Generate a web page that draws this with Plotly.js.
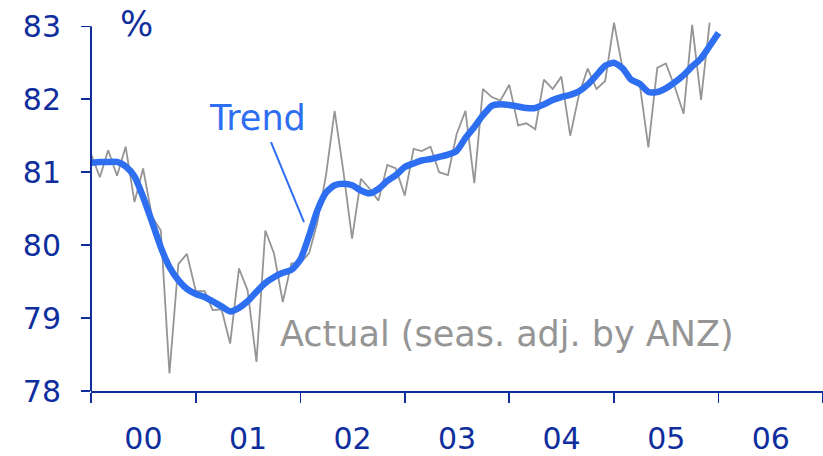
<!DOCTYPE html>
<html>
<head>
<meta charset="utf-8">
<script src="https://cdn.plot.ly/plotly-3.0.1.min.js"></script>
<style>html,body{margin:0;padding:0;background:#fff;}#chart{width:823px;height:456px;}</style>
</head>
<body>
<div id="chart"></div>
<script>
// Monthly data starting January 2000
const startYear = 2000;
const actualValues = [
  81.25, 80.93, 81.30, 80.95, 81.35, 80.59, 81.05, 80.39, 80.20, 78.24, 79.74, 79.88,
  79.37, 79.37, 79.11, 79.12, 78.65, 79.68, 79.38, 78.40, 80.20, 79.89, 79.22, 79.75,
  79.75, 79.89, 80.30, 80.96, 81.84, 81.00, 80.09, 80.91, 80.77, 80.61, 81.10, 81.05,
  80.68, 81.32, 81.29, 81.35, 81.00, 80.96, 81.52, 81.84, 80.85, 82.14, 82.03, 81.98,
  82.20, 81.64, 81.67, 81.59, 82.27, 82.14, 82.31, 81.50, 82.07, 82.42, 82.14, 82.25,
  83.05, 82.40, 82.25, 82.20, 81.34, 82.43, 82.49, 82.17, 81.80, 83.02, 81.99, 83.05
];
const trendValues = [
  81.13, 81.14, 81.14, 81.14, 81.08, 80.94, 80.66, 80.32, 79.97, 79.70, 79.52, 79.40,
  79.33, 79.29, 79.23, 79.16, 79.09, 79.14, 79.23, 79.36, 79.48, 79.56, 79.62, 79.66,
  79.80, 80.13, 80.47, 80.72, 80.82, 80.84, 80.82, 80.75, 80.71, 80.77, 80.88, 80.96,
  81.07, 81.12, 81.16, 81.18, 81.21, 81.24, 81.29, 81.47, 81.62, 81.78, 81.91, 81.93,
  81.92, 81.90, 81.88, 81.88, 81.93, 81.99, 82.03, 82.06, 82.11, 82.20, 82.33, 82.46,
  82.50, 82.42, 82.27, 82.21, 82.10, 82.10, 82.15, 82.23, 82.33, 82.45, 82.56, 82.73,
  82.91
];
const yTicks = [78, 79, 80, 81, 82, 83];

function monthDate(i) {
  const y = startYear + Math.floor(i / 12);
  const m = (i % 12) + 1;
  return y + '-' + (m < 10 ? '0' + m : m) + '-01';
}
const actualDates = actualValues.map((v, i) => monthDate(i));
const trendDates = trendValues.map((v, i) => monthDate(i));

const AXIS = '#0f2e9e';
const BLUE = '#2e6ff2';
const GREY = '#959595';
const FONT = 'DejaVu Sans, Verdana, sans-serif';

const traces = [
  {x: actualDates, y: actualValues, type: 'scatter', mode: 'lines',
   line: {color: GREY, width: 1.8}, hoverinfo: 'skip'},
  {x: trendDates, y: trendValues, type: 'scatter', mode: 'lines',
   line: {color: BLUE, width: 6.5, shape: 'spline', smoothing: 0.6}, hoverinfo: 'skip'}
];

const layout = {
  width: 823, height: 456,
  margin: {l: 91, r: 0, t: 19, b: 65},
  paper_bgcolor: '#ffffff', plot_bgcolor: '#ffffff',
  showlegend: false,
  font: {family: FONT, color: AXIS, size: 30},
  xaxis: {
    type: 'date',
    range: ['2000-01-01', '2007-01-01'],
    tick0: '2000-01-01', dtick: 'M12', tickformat: '%y',
    ticklabelmode: 'period',
    showgrid: false, zeroline: false,
    showline: true, linecolor: AXIS, linewidth: 2,
    ticks: 'outside', ticklen: 10, tickwidth: 1.5, tickcolor: AXIS,
    ticklabelstandoff: 10,
    tickfont: {family: FONT, size: 30, color: AXIS}
  },
  yaxis: {
    range: [78, 83.1],
    tickvals: yTicks, ticktext: yTicks.map(String),
    showgrid: false, zeroline: false, showline: false,
    ticks: 'outside', ticklen: 9, tickwidth: 1.5, tickcolor: AXIS,
    ticklabelstandoff: 14,
    tickfont: {family: FONT, size: 30, color: AXIS}
  },
  shapes: [
    {type: 'line', xref: 'paper', yref: 'y', x0: 0, x1: 0, y0: 78, y1: 83,
     line: {color: AXIS, width: 2}},
    {type: 'line', xref: 'paper', yref: 'paper', x0: 0.2459, y0: 0.6688, x1: 0.291, y1: 0.4539,
     line: {color: BLUE, width: 2}}
  ],
  annotations: [
    {text: '%', xref: 'paper', yref: 'paper', x: 0.0615, y: 0.986, showarrow: false,
     xanchor: 'center', yanchor: 'middle', font: {family: FONT, size: 35, color: AXIS}},
    {text: 'Trend', xref: 'paper', yref: 'paper', x: 0.2268, y: 0.733, showarrow: false,
     xanchor: 'center', yanchor: 'middle', font: {family: FONT, size: 35, color: BLUE}},
    {text: 'Actual (seas. adj. by ANZ)', xref: 'paper', yref: 'paper', x: 0.568, y: 0.153,
     showarrow: false, xanchor: 'center', yanchor: 'middle',
     font: {family: FONT, size: 35, color: GREY}}
  ]
};

Plotly.newPlot('chart', traces, layout, {staticPlot: true, displayModeBar: false});
</script>
</body>
</html>
